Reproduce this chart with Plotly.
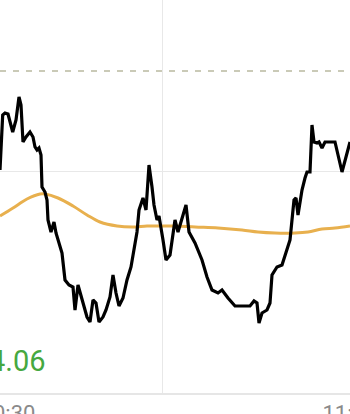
import plotly.graph_objects as go

# time steps (x) and prices for the price line
price_t = [0, 1.7, 2.7, 5, 8, 12.7, 16, 19, 21, 23, 26, 30, 33, 35, 37, 39, 41, 42, 45, 47, 48, 51, 54, 56,
           62, 65, 69, 73, 75, 78, 82, 87, 90, 93, 96, 99, 103, 106, 110, 113, 116, 119, 123, 127, 131,
           134, 137, 139, 143, 146, 149, 152, 154, 157, 159, 163, 166, 170, 175, 178, 182, 186, 189, 195,
           202, 207, 212, 218, 222, 228, 235, 250, 254, 257, 259, 262, 267, 270, 272, 277, 282, 290, 294,
           296, 298, 302, 305, 307, 310, 312, 314, 317, 319, 322, 325, 335, 342, 347, 350]
price = [4.1505, 4.1705, 4.178, 4.179, 4.1785, 4.1695, 4.1755, 4.187, 4.183, 4.1645, 4.167, 4.1695, 4.167,
         4.162, 4.1605, 4.1615, 4.158, 4.142, 4.1395, 4.1355, 4.1255, 4.1195, 4.1245, 4.119,
         4.109, 4.0955, 4.093, 4.092, 4.0805, 4.093, 4.0855, 4.077, 4.0745, 4.0855, 4.084, 4.0745, 4.077,
         4.0805, 4.087, 4.098, 4.089, 4.0825, 4.0865, 4.0955, 4.102,
         4.112, 4.1195, 4.1305, 4.1365, 4.1305, 4.153, 4.142, 4.133, 4.1255, 4.1275, 4.1155, 4.1055, 4.108,
         4.1255, 4.1195, 4.127, 4.133, 4.1195, 4.114,
         4.1055, 4.097, 4.0905, 4.089, 4.0905, 4.0865, 4.0825, 4.0825, 4.085, 4.084, 4.074, 4.079, 4.0805,
         4.084, 4.098, 4.102, 4.103, 4.1155, 4.1355,
         4.1365, 4.128, 4.1405, 4.1465, 4.1495, 4.1495, 4.173, 4.1645, 4.164, 4.1645, 4.1615, 4.1645, 4.1645,
         4.1495, 4.159, 4.1645]

# moving average line
avg_t = [0, 13, 27, 40, 45, 58, 73, 87, 100, 117, 133, 147, 160, 175, 195, 218, 242, 258, 275, 295, 308,
         322, 335, 350]
avg = [4.1275, 4.1315, 4.136, 4.1385, 4.1385, 4.1365, 4.1325, 4.128, 4.1245, 4.1225, 4.122, 4.1225,
       4.1225, 4.1225, 4.122, 4.1215, 4.1205, 4.1195, 4.119, 4.119, 4.1195, 4.121, 4.1215, 4.1225]

prev_close = 4.20
grid_price = [4.15]
grid_time = [162]
tick_time = [8, 349.8]
tick_text = ["10:30", "11:00"]
price_label = "4.06"

fig = go.Figure()
fig.add_trace(go.Scatter(x=[0, 350], y=[prev_close, prev_close], mode="lines",
                         line=dict(color="#b9b9a0", width=1.3, dash="6px,7px"), hoverinfo="skip"))
fig.add_trace(go.Scatter(x=avg_t, y=avg, mode="lines",
                         line=dict(color="#e8b04e", width=3, shape="spline"), hoverinfo="skip"))
fig.add_trace(go.Scatter(x=price_t, y=price, mode="lines",
                         line=dict(color="#000000", width=3.2), hoverinfo="skip"))

fig.update_layout(
    width=350, height=414,
    margin=dict(l=0, r=0, t=0, b=21, autoexpand=False),
    paper_bgcolor="white", plot_bgcolor="white",
    showlegend=False,
    xaxis=dict(range=[0, 350], showgrid=False, zeroline=False, automargin=False,
               tickmode="array", tickvals=tick_time, ticktext=tick_text,
               tickfont=dict(family="Roboto", size=22, color="#8a8a8a"),
               ticklabeloverflow="allow",
               showline=True, linecolor="#e6e6e6", linewidth=1.5, ticks="",
               minor=dict(tickmode="array", tickvals=grid_time, showgrid=True,
                          gridcolor="#e8e8e8", gridwidth=1.2, ticks="")),
    yaxis=dict(range=[4.039, 4.2355], showticklabels=False, zeroline=False, automargin=False,
               tickmode="array", tickvals=grid_price, showgrid=True,
               gridcolor="#e8e8e8", gridwidth=1.2),
    annotations=[dict(text=price_label, xref="paper", yref="paper", x=48 / 350, y=32 / 393,
                      xanchor="right", yanchor="middle", showarrow=False,
                      font=dict(family="Roboto", size=29, color="#46a83f"))],
)

fig.write_html("out.html")
